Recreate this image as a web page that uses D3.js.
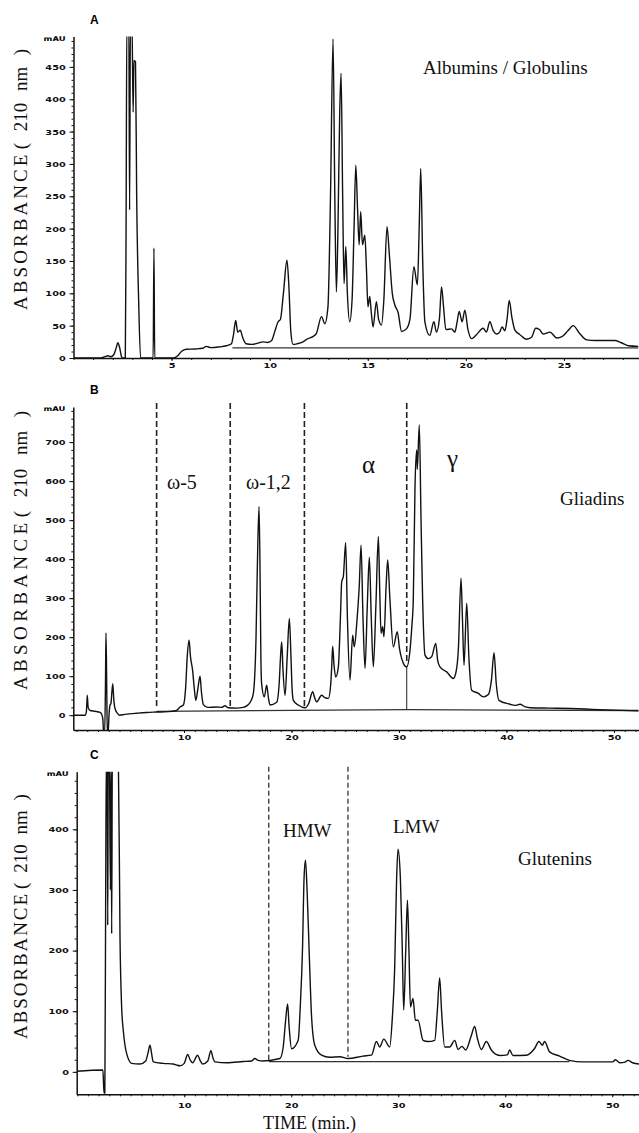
<!DOCTYPE html>
<meta charset="utf-8" />
<title>RP-HPLC of wheat protein fractions</title>
<script src="https://d3js.org/d3.v7.min.js"></script>
<style>
  body { margin: 0; background: #fff; }
  svg { display: block; }
  .tick text { font-family: "DejaVu Sans", sans-serif; font-weight: bold; font-size: 7.5px; fill: #111; }
  .axis path, .axis line { stroke: #111; }
  .serif { font-family: "Liberation Serif", "Times New Roman", serif; fill: #111; }
</style>
<div id="chart"></div>
<script>
  var width = 639, height = 1133;

  // ---- data: [time (min), absorbance (mAU)] ----
  var traceA = [
    [0,0],[1.4,0],[1.6,2],[1.75,3.5],[1.9,2],[2.05,5],[2.18,16],[2.26,23.5],[2.36,15],[2.45,2],[2.52,0],[2.64,0],
    [2.68,200],[2.72,520],[2.82,520],[2.86,229],[2.9,520],[2.98,520],[3.04,380],[3.08,460],[3.16,458],[3.22,250],[3.32,90],[3.42,0],
    [4.06,0],[4.1,170],[4.14,0],[5.1,0],[5.3,3],[5.5,10],[5.75,13.5],[6.2,14],[6.6,15],[6.77,18],[7.0,16],[7.4,17],[7.8,19],
    [8.05,22],[8.15,35],[8.27,58],[8.37,40],[8.5,43],[8.62,32],[8.8,22],[9.1,21],[9.4,23],[9.65,25],[9.9,24],[10.1,27],[10.25,40],
    [10.43,56],[10.55,60],[10.7,100],[10.88,151],[10.98,110],[11.08,40],[11.19,21],[11.4,22],[11.7,25],[11.95,30],[12.2,33],[12.38,38],
    [12.64,64],[12.81,53],[12.97,79],[13.1,250],[13.23,493],[13.32,250],[13.4,102],[13.48,200],[13.57,380],[13.64,440],[13.72,250],
    [13.79,115],[13.88,172],[13.96,100],[14.08,56],[14.2,90],[14.3,200],[14.39,298],[14.48,230],[14.56,175],[14.64,226],[14.73,175],
    [14.85,190],[14.93,140],[15.01,79],[15.1,95],[15.18,70],[15.27,48],[15.44,87],[15.55,60],[15.7,51],[15.82,90],[15.98,203],
    [16.1,160],[16.25,100],[16.38,82],[16.55,70],[16.72,41],[16.97,45],[17.15,60],[17.35,141],[17.53,113],[17.62,200],[17.7,293],
    [17.8,150],[17.91,56],[18.16,35],[18.37,56],[18.5,40],[18.65,60],[18.76,110],[18.86,80],[18.98,44],[19.27,45],[19.44,40],
    [19.55,55],[19.66,72],[19.81,56],[19.95,74],[20.1,45],[20.29,30],[20.54,36],[20.88,46],[21.05,40],[21.22,56],[21.4,42],
    [21.57,37],[21.72,40],[21.85,48],[21.99,42],[22.1,60],[22.21,89],[22.35,62],[22.5,43],[22.76,36],[23.1,29],[23.35,32],
    [23.56,46],[23.75,44],[23.94,37],[24.29,40],[24.63,31],[24.9,33],[25.2,42],[25.47,50],[25.8,38],[26.16,28],[26.6,27],
    [27.1,27],[27.6,27],[27.9,24],[28.28,19],[28.8,18]
  ];
  var baselineA = [[8.1,15.5],[28.8,15.5]];

  var traceB = [
    [-0.3,0],[0.8,0],[0.92,10],[1.0,51],[1.08,20],[1.26,12],[1.7,10],[2.2,7],[2.34,2],[2.45,-10],[2.52,-45],[2.62,-45],
    [2.7,100],[2.74,211],[2.8,100],[2.86,-45],[2.94,-45],[3.02,0],[3.12,26],[3.2,30],[3.37,81],[3.47,40],[3.58,17],[3.8,5],
    [3.98,0],[4.5,2],[5.6,5],[6.5,7],[7.4,8],[8.5,9],[9.3,12],[9.63,21],[9.94,26],[10.15,70],[10.3,150],[10.47,192],[10.6,150],
    [10.8,115],[10.95,70],[11.1,38],[11.3,70],[11.49,100],[11.62,60],[11.8,27],[12.2,20],[13.0,21],[13.5,20],[13.8,24],[14.1,19],
    [14.9,18],[15.5,20],[15.83,24],[16.2,35],[16.45,56],[16.7,200],[16.85,420],[16.98,535],[17.08,350],[17.15,150],[17.22,81],
    [17.47,47],[17.69,77],[17.85,45],[18.0,26],[18.62,33],[18.85,80],[19.0,160],[19.09,188],[19.2,120],[19.4,51],[19.6,150],
    [19.8,248],[19.95,150],[20.05,70],[20.17,38],[20.63,26],[21.26,19],[21.6,30],[21.97,60],[22.15,45],[22.34,34],[22.8,51],
    [23.1,45],[23.43,43],[23.65,80],[23.74,124],[23.83,177],[23.95,130],[24.11,98],[24.36,124],[24.55,250],[24.67,342],[24.82,355],
    [25.04,442],[25.2,250],[25.44,90],[25.69,205],[25.84,175],[26.07,235],[26.3,330],[26.47,436],[26.65,250],[26.84,120],
    [27.05,280],[27.24,405],[27.42,250],[27.61,124],[27.85,280],[28.08,458],[28.2,330],[28.33,210],[28.48,227],[28.6,201],
    [28.8,330],[28.95,398],[29.15,300],[29.47,175],[29.84,214],[30.05,170],[30.25,145],[30.5,128],[30.72,124],[31.0,160],
    [31.2,230],[31.33,295],[31.49,586],[31.65,680],[31.7,630],[31.89,744],[32.05,500],[32.2,295],[32.42,154],[32.73,145],
    [33.04,150],[33.42,184],[33.6,140],[33.81,124],[34.44,111],[35.05,94],[35.3,110],[35.52,167],[35.77,351],[35.9,250],
    [36.05,128],[36.3,287],[36.5,150],[36.76,64],[37.38,56],[37.84,47],[38.31,53],[38.6,90],[38.84,160],[39.05,80],[39.3,38],
    [40.33,28],[40.8,25],[41.26,28],[41.7,22],[42.2,19],[44,18],[46,17],[48,15],[50,13],[52.3,11]
  ];
  var baselineB = [[7.45,10],[30.72,14],[52.3,12]];
  var dividersB = [7.45, 14.3, 21.2, 30.72];
  var dividerEndsB = [18, 21, 18, 135];

  var traceC = [
    [-0.05,1],[2.4,3],[2.5,-35],[2.58,-35],[2.66,300],[2.72,520],[2.8,520],[2.85,242],[2.9,520],[3.0,520],[3.1,300],[3.16,520],
    [3.22,228],[3.28,520],[3.84,520],[4.0,217],[4.15,107],[4.3,69],[4.62,30],[5.09,14],[5.86,13],[6.4,18],[6.6,30],[6.8,44],
    [6.95,30],[7.1,16.5],[8.04,14],[8.97,13],[9.3,11],[9.6,10],[10.0,14],[10.32,28.6],[10.55,20],[10.78,15],[11.25,27.5],
    [11.5,18],[11.72,13],[12.2,18],[12.49,35],[12.7,22],[12.87,16.5],[14,15],[15.5,17],[16.3,18],[16.6,22],[16.9,19],[17.37,18],
    [18.94,22],[19.25,41],[19.45,80],[19.66,112],[19.8,75],[20.03,38],[20.65,52],[20.85,110],[21.05,201],[21.2,320],[21.33,349],
    [21.48,300],[21.67,201],[21.9,91],[22.2,44],[22.83,27.5],[23.6,24],[24.54,25],[25.3,22],[26.7,26],[27.5,27.5],[27.96,50],
    [28.27,41],[28.65,54],[29.2,41],[29.45,90],[29.67,173],[29.85,320],[29.98,367],[30.2,319],[30.38,200],[30.51,102],[30.7,200],
    [30.86,283],[31.0,200],[31.14,107],[31.38,121],[31.6,85],[31.85,85],[32.32,52],[32.78,50],[33.41,52],[33.65,100],[33.87,155],
    [34.05,100],[34.34,41],[34.81,41],[35.28,52],[35.59,37],[35.96,42],[36.3,36],[36.83,60],[37.14,75],[37.4,55],[37.77,37],
    [38.23,50],[38.7,36],[39.48,27],[40.2,28],[40.41,36],[40.72,27],[41.97,27.5],[42.74,38.5],[43.15,50],[43.46,44],[43.68,50],
    [44.14,33],[45.08,26],[46.0,19],[47.25,16.5],[50.05,16.5],[50.3,20],[50.7,15],[51.2,16],[51.46,19],[51.9,15],[52.5,13]
  ];
  var baselineC = [[17.9,17],[46,17]];
  var dividersC = [17.9, 25.3];
  var dividerEndsC = [19, 25];

  // tick labels
  var yTicksA = [0, 50, 100, 150, 200, 250, 300, 350, 400, 450];
  var yTicksB = [0, 100, 200, 300, 400, 500, 600, 700];
  var yTicksC = [0, 100, 200, 300, 400];
  var xTicksA = [5, 10, 15, 20, 25];
  var xTicksBC = [10, 20, 30, 40, 50];

  // ---- layout per panel ----
  var panels = [
    {
      letter: "A", trace: traceA, baseline: baselineA, dividers: [], dividerEnds: [],
      xDomain: [0, 28.8], xRange: [73.5, 638.5], yDomain: [0, 497], yRange: [358, 36.5],
      yTicks: yTicksA, yMinor: 10, xTicks: xTicksA, xLabelGap: 2,
      labelBottom: 310, labelLength: 268,
      notes: [{ text: "Albumins / Globulins", x: 423, y: 74, size: 19 }]
    },
    {
      letter: "B", trace: traceB, baseline: baselineB, dividers: dividersB, dividerEnds: dividerEndsB,
      xDomain: [-0.3, 52.3], xRange: [73.3, 638.7], yDomain: [-38, 790], yRange: [730, 407],
      yTicks: yTicksB, yMinor: 20, xTicks: xTicksBC, xLabelGap: 2, dividerTop: 800,
      drop: [30.72, 124, 14],
      labelBottom: 690, labelLength: 288,
      notes: [
        { text: "ω-5", x: 167, y: 489, size: 20 },
        { text: "ω-1,2", x: 246, y: 489, size: 20 },
        { text: "α", x: 362, y: 473, size: 25 },
        { text: "γ", x: 447, y: 467, size: 25 },
        { text: "Gliadins", x: 560, y: 505, size: 19 }
      ]
    },
    {
      letter: "C", trace: traceC, baseline: baselineC, dividers: dividersC, dividerEnds: dividerEndsC,
      xDomain: [-0.05, 52.5], xRange: [76.7, 639], yDomain: [-37, 495], yRange: [1094.3, 771.7],
      yTicks: yTicksC, yMinor: 20, xTicks: xTicksBC, xLabelGap: 5, dividerTop: 503,
      labelBottom: 1039, labelLength: 250,
      notes: [
        { text: "HMW", x: 283, y: 837, size: 19 },
        { text: "LMW", x: 393, y: 833, size: 19 },
        { text: "Glutenins", x: 518, y: 865, size: 19 }
      ]
    }
  ];

  var svg = d3
    .select("#chart")
    .append("svg")
    .attr("width", width)
    .attr("height", height);

  panels.forEach(function (p, i) {
    var x = d3.scaleLinear().domain(p.xDomain).range(p.xRange);
    var y = d3.scaleLinear().domain(p.yDomain).range(p.yRange);
    var g = svg.append("g");

    // clip so the off-scale peaks stop at the top of the axis
    var clipId = "clip" + i;
    svg.append("clipPath").attr("id", clipId)
      .append("rect")
      .attr("x", p.xRange[0]).attr("y", p.yRange[1])
      .attr("width", p.xRange[1] - p.xRange[0])
      .attr("height", p.yRange[0] - p.yRange[1]);

    var line = d3.line()
      .x(function (d) { return x(d[0]); })
      .y(function (d) { return y(d[1]); })
      .curve(d3.curveMonotoneX);

    var plot = g.append("g").attr("clip-path", "url(#" + clipId + ")");

    // integration baseline
    plot.append("path")
      .datum(p.baseline)
      .attr("d", d3.line().x(function (d) { return x(d[0]); }).y(function (d) { return y(d[1]); }))
      .attr("fill", "none")
      .attr("stroke", "#333")
      .attr("stroke-width", 1.3);

    plot.append("path")
      .datum(p.trace)
      .attr("d", line)
      .attr("fill", "none")
      .attr("stroke", "#111")
      .attr("stroke-width", 1.4)
      .attr("stroke-linejoin", "round");

    // fraction dividers
    p.dividers.forEach(function (t, k) {
      g.append("line")
        .attr("x1", x(t)).attr("x2", x(t))
        .attr("y1", y(p.dividerTop)).attr("y2", y(p.dividerEnds[k]))
        .attr("stroke", "#222")
        .attr("stroke-width", i === 1 ? 1.6 : 1.2)
        .attr("stroke-dasharray", i === 1 ? "6,3" : "5,3");
    });
    if (p.drop) {
      g.append("line")
        .attr("x1", x(p.drop[0])).attr("x2", x(p.drop[0]))
        .attr("y1", y(p.drop[1])).attr("y2", y(p.drop[2]))
        .attr("stroke", "#222").attr("stroke-width", 1);
    }

    // axes
    var yMinorTicks = d3.range(0, p.yDomain[1], p.yMinor);
    g.append("g").attr("class", "axis")
      .attr("transform", "translate(" + p.xRange[0] + ",0)")
      .call(d3.axisLeft(y).tickValues(yMinorTicks).tickSize(2).tickFormat(""))
      .select(".domain").remove();
    var yAxis = g.append("g").attr("class", "axis")
      .attr("transform", "translate(" + p.xRange[0] + ",0)")
      .call(d3.axisLeft(y).tickValues(p.yTicks).tickSize(4).tickSizeOuter(0).tickPadding(2));
    yAxis.select(".domain").attr("stroke-width", 1.5);
    yAxis.selectAll(".tick text").attr("transform", "scale(1.3,1)");

    var xMinorTicks = d3.range(Math.ceil(p.xDomain[0]), p.xDomain[1], 1);
    g.append("g").attr("class", "axis")
      .attr("transform", "translate(0," + p.yRange[0] + ")")
      .call(d3.axisBottom(x).tickValues(xMinorTicks).tickSize(2).tickFormat(""))
      .select(".domain").remove();
    var xAxis = g.append("g").attr("class", "axis")
      .attr("transform", "translate(0," + p.yRange[0] + ")")
      .call(d3.axisBottom(x).tickValues(p.xTicks).tickSize(3).tickSizeOuter(0).tickPadding(p.xLabelGap));
    xAxis.select(".domain").attr("stroke-width", 1.5);
    xAxis.selectAll(".tick text").attr("transform", "scale(1.3,1)");

    // mAU unit
    g.append("text")
      .attr("transform", "translate(" + (p.xRange[0] - 8) + "," + (p.yRange[1] + 4) + ") scale(1.3,1)")
      .attr("text-anchor", "end")
      .style("font-family", "DejaVu Sans, sans-serif")
      .style("font-weight", "bold")
      .style("font-size", "6.5px")
      .text("mAU");

    // panel letter
    g.append("text")
      .attr("x", 90).attr("y", p.yRange[1] - 13)
      .style("font-family", "Liberation Sans, Arial, sans-serif")
      .style("font-weight", "bold")
      .style("font-size", "12px")
      .text(p.letter);

    // y title, rotated: spaced capitals, then the unit with wide word gaps
    var title = g.append("g")
      .attr("transform", "translate(27," + p.labelBottom + ") rotate(-90)");
    title.append("text")
      .attr("class", "serif")
      .attr("x", 0)
      .attr("textLength", p.labelLength * 0.58)
      .attr("lengthAdjust", "spacing")
      .style("font-size", "19px")
      .text("ABSORBANCE");
    var unit = title.append("text")
      .attr("class", "serif")
      .attr("x", p.labelLength * 0.6)
      .style("font-size", "19px")
      .text("( 210 nm )");
    var natural = unit.node().getComputedTextLength();
    unit.style("word-spacing", Math.max(0, (p.labelLength * 0.4 - natural) / 4) + "px");

    p.notes.forEach(function (n) {
      g.append("text")
        .attr("class", "serif")
        .attr("x", n.x).attr("y", n.y)
        .style("font-size", n.size + "px")
        .text(n.text);
    });
  });

  svg.append("text")
    .attr("class", "serif")
    .attr("x", 263).attr("y", 1129)
    .style("font-size", "18px")
    .text("TIME (min.)");
</script>
